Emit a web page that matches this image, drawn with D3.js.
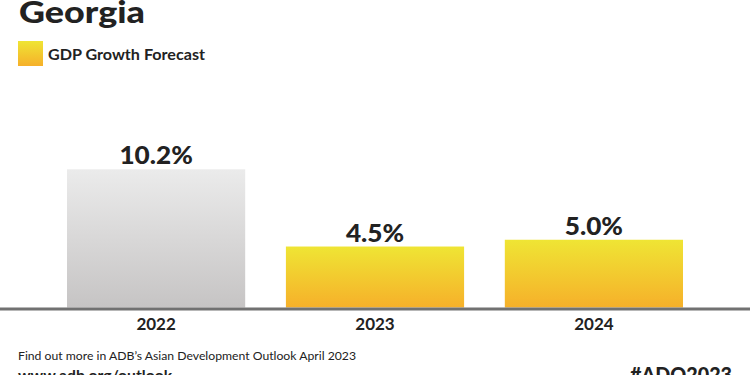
<!DOCTYPE html>
<html lang="en">
<head>
  <meta charset="UTF-8">
  <title>Georgia GDP Growth Forecast</title>
  <style>
  html, body { margin: 0; padding: 0; background: #fff; }
  #chart { width: 750px; height: 375px; overflow: hidden; }
  text { font-family: Lato, "Open Sans", sans-serif; fill: #222; }
  </style>
</head>
<body>
  <div id="chart"></div>
  <script src="https://cdn.jsdelivr.net/npm/d3@7"></script>
  <script>

const years = ['2022', '2023', '2024']
const growth = [10.2, 4.5, 5.0]
const labels = ['10.2%', '4.5%', '5.0%']

const width = 750, height = 375

const svg = d3.select('#chart').append('svg')
    .attr('width', width)
    .attr('height', height)

const defs = svg.append('defs')

function grad(id, top, bottom) {
  const g = defs.append('linearGradient')
      .attr('id', id)
      .attr('x1', 0).attr('y1', 0)
      .attr('x2', 0).attr('y2', 1)
  g.append('stop').attr('offset', '0%').attr('stop-color', top)
  g.append('stop').attr('offset', '100%').attr('stop-color', bottom)
}
grad('grey', '#ebebeb', '#c6c4c4')
grad('gold', '#efe534', '#f6b02a')

// the original typeface runs a bit wider than Lato, stretch to fit
function widen(sel, k) {
  sel.each(function() {
    const w = this.getComputedTextLength()
    d3.select(this)
        .attr('textLength', w * k)
        .attr('lengthAdjust', 'spacingAndGlyphs')
  })
}

const x = d3.scaleBand()
    .domain(years)
    .range([67, 683])
    .paddingInner(0.186)
    .paddingOuter(0)

const y = d3.scaleLinear()
    .domain([0, 10])
    .range([307.5, 172])

// title + legend
svg.append('text')
    .attr('x', 19).attr('y', 23)
    .style('font-size', '31px')
    .style('font-weight', 900)
    .attr('textLength', 126)
    .attr('lengthAdjust', 'spacingAndGlyphs')
    .text('Georgia')

svg.append('rect')
    .attr('x', 18).attr('y', 41)
    .attr('width', 25).attr('height', 25)
    .attr('fill', 'url(#gold)')

svg.append('text')
    .attr('x', 48).attr('y', 60)
    .style('font-size', '15px')
    .style('font-weight', 700)
    .attr('textLength', 157)
    .attr('lengthAdjust', 'spacingAndGlyphs')
    .text('GDP Growth Forecast')

// bars
svg.selectAll('rect.bar')
  .data(years)
  .join('rect')
    .attr('class', 'bar')
    .attr('x', d => x(d))
    .attr('width', x.bandwidth())
    .attr('y', (d, i) => y(growth[i]))
    .attr('height', (d, i) => y(0) - y(growth[i]))
    .attr('fill', (d, i) => i === 0 ? 'url(#grey)' : 'url(#gold)')

svg.selectAll('text.value')
  .data(years)
  .join('text')
    .attr('class', 'value')
    .attr('x', d => x(d) + x.bandwidth() / 2)
    .attr('y', (d, i) => y(growth[i]) - 5)
    .attr('text-anchor', 'middle')
    .style('font-size', '24px')
    .style('font-weight', 900)
    .text((d, i) => labels[i])
    .call(widen, 1.09)

// baseline
svg.append('line')
    .attr('x1', 0).attr('x2', width)
    .attr('y1', y(0) + 1.5).attr('y2', y(0) + 1.5)
    .attr('stroke', '#717171')
    .attr('stroke-width', 3)

const axis = svg.append('g')
    .attr('transform', `translate(0,${y(0)})`)
    .call(d3.axisBottom(x).tickSize(0).tickPadding(10))
axis.select('.domain').remove()
axis.selectAll('text')
    .style('font-size', '17px')
    .style('font-weight', 700)
    .style('font-family', 'Lato, sans-serif')
    .attr('fill', '#222')

// footer
svg.append('text')
    .attr('x', 18).attr('y', 360)
    .style('font-size', '11.5px')
    .attr('textLength', 338)
    .attr('lengthAdjust', 'spacingAndGlyphs')
    .text('Find out more in ADB\u2019s Asian Development Outlook April 2023')

svg.append('text')
    .attr('x', 18).attr('y', 381)
    .style('font-size', '16px')
    .style('font-weight', 700)
    .attr('textLength', 154)
    .attr('lengthAdjust', 'spacingAndGlyphs')
    .text('www.adb.org/outlook')

svg.append('text')
    .attr('x', 630).attr('y', 382)
    .style('font-size', '21px')
    .style('font-weight', 900)
    .attr('textLength', 102)
    .attr('lengthAdjust', 'spacingAndGlyphs')
    .text('#ADO2023')

  </script>
</body>
</html>
